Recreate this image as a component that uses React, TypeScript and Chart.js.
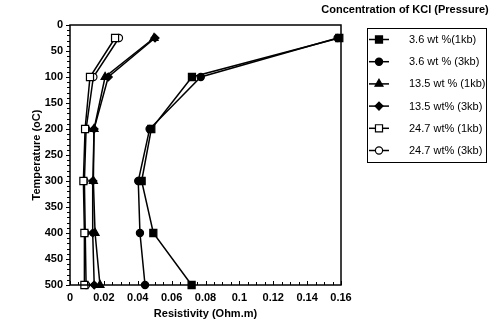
import React, { useEffect, useRef } from 'react';
import { Chart, registerables } from 'chart.js';
import { drawPoint } from 'chart.js/helpers';

Chart.register(...registerables);

const temperatures = [25, 100, 200, 300, 400, 500];
const kcl36_1kb = [0.159, 0.072, 0.048, 0.0423, 0.0492, 0.0718];
const kcl36_3kb = [0.158, 0.0772, 0.047, 0.0403, 0.0413, 0.0443];
const kcl135_1kb = [0.0496, 0.0207, 0.0142, 0.0138, 0.0148, 0.0177];
const kcl135_3kb = [0.0502, 0.0226, 0.0142, 0.0135, 0.0134, 0.0143];
const kcl247_1kb = [0.0266, 0.0118, 0.0089, 0.0079, 0.0085, 0.0085];
const kcl247_3kb = [0.0289, 0.0138, 0.0095, 0.0085, 0.009, 0.0095];

const seriesLabels = [
  '3.6 wt %(1kb)',
  '3.6 wt % (3kb)',
  '13.5 wt % (1kb)',
  '13.5 wt% (3kb)',
  '24.7 wt% (1kb)',
  '24.7 wt% (3kb)',
];
const seriesValues = [kcl36_1kb, kcl36_3kb, kcl135_1kb, kcl135_3kb, kcl247_1kb, kcl247_3kb];
const seriesStyles = ['rect', 'circle', 'triangle', 'rectRot', 'rect', 'circle'];
const seriesRadius = [5, 3.6, 4.6, 4, 5, 3.6];
const seriesFilled = [true, true, true, true, false, false];

const legendTitle = 'Concentration of KCl (Pressure)';
const xTitle = 'Resistivity (Ohm.m)';
const yTitle = 'Temperature (oC)';

const FONT = "'Liberation Sans', Arial, sans-serif";

const framePlugin = {
  id: 'frameAndLegend',
  afterDatasetsDraw(chart: any) {
    const { ctx, chartArea: a, scales } = chart;
    const xs = scales.x;
    const ys = scales.y;
    ctx.save();
    ctx.strokeStyle = '#000';
    ctx.lineWidth = 1.5;
    ctx.strokeRect(a.left, a.top, a.right - a.left, a.bottom - a.top);
    ctx.lineWidth = 1;
    ctx.beginPath();
    for (let t = 0; t <= 500; t += 10) {
      const py = Math.round(ys.getPixelForValue(t)) + 0.5;
      const len = t % 50 === 0 ? 4 : 3;
      ctx.moveTo(a.left - len, py);
      ctx.lineTo(a.left, py);
    }
    for (let i = 0; i <= 32; i++) {
      const v = i * 0.005;
      const px = Math.round(xs.getPixelForValue(v)) + 0.5;
      const len = i % 4 === 0 ? 4 : 3;
      ctx.moveTo(px, a.bottom);
      ctx.lineTo(px, a.bottom - len);
    }
    ctx.stroke();

    // legend
    ctx.fillStyle = '#000';
    ctx.font = `bold 11px ${FONT}`;
    ctx.textAlign = 'center';
    ctx.textBaseline = 'middle';
    ctx.fillText(legendTitle, 405, 10);

    ctx.lineWidth = 1;
    ctx.strokeRect(367.5, 28.5, 119, 134);
    ctx.textAlign = 'left';
    ctx.font = `11px ${FONT}`;
    chart.data.datasets.forEach((ds: any, i: number) => {
      const y = 39.5 + i * 22.2;
      ctx.strokeStyle = '#000';
      ctx.lineWidth = 1.5;
      ctx.beginPath();
      ctx.moveTo(369, y);
      ctx.lineTo(389, y);
      ctx.stroke();
      ctx.fillStyle = ds.pointBackgroundColor;
      ctx.strokeStyle = '#000';
      ctx.lineWidth = 1.2;
      drawPoint(ctx, { pointStyle: ds.pointStyle, radius: ds.pointRadius, rotation: 0, borderWidth: 1.2 }, 379, y);
      ctx.fillStyle = '#000';
      ctx.fillText(ds.label, 409, y + 0.5);
    });
    ctx.restore();
  },
};

export default function App() {
  const ref = useRef<HTMLCanvasElement | null>(null);
  useEffect(() => {
    if (!ref.current) return;
    const datasets = seriesLabels.map((label, i) => ({
      label,
      data: temperatures.map((t, j) => ({ x: seriesValues[i][j], y: t })),
      showLine: true,
      borderColor: '#000',
      borderWidth: 1.5,
      pointStyle: seriesStyles[i],
      pointRadius: seriesRadius[i],
      pointBorderWidth: 1.2,
      pointBorderColor: '#000',
      pointBackgroundColor: seriesFilled[i] ? '#000' : '#fff',
      backgroundColor: seriesFilled[i] ? '#000' : '#fff',
      clip: false as any,
    }));
    const chart = new Chart(ref.current, {
      type: 'scatter',
      data: { datasets },
      options: {
        responsive: false,
        animation: false,
        layout: { padding: { top: 25, right: 159, left: 0, bottom: 0 } },
        plugins: { legend: { display: false }, tooltip: { enabled: false } },
        scales: {
          x: {
            type: 'linear',
            min: 0,
            max: 0.16,
            grid: { display: false, drawTicks: false },
            border: { display: false },
            ticks: {
              stepSize: 0.02,
              autoSkip: false,
              maxRotation: 0,
              padding: 6,
              color: '#000',
              font: { family: FONT, size: 11, weight: 'bold' },
              callback: (v: any) => String(+Number(v).toFixed(3)),
            },
            title: {
              display: true,
              text: xTitle,
              color: '#000',
              font: { family: FONT, size: 11, weight: 'bold' },
              padding: { top: 0, bottom: 3.5 },
            },
            afterFit: (s: any) => {
              s.height = 39;
            },
          },
          y: {
            type: 'linear',
            reverse: true,
            min: 0,
            max: 500,
            grid: { display: false, drawTicks: false },
            border: { display: false },
            ticks: {
              stepSize: 50,
              autoSkip: false,
              padding: 7,
              color: '#000',
              font: { family: FONT, size: 11, weight: 'bold' },
            },
            title: {
              display: true,
              text: yTitle,
              color: '#000',
              font: { family: FONT, size: 11, weight: 'bold' },
              padding: { top: 30, bottom: 0 },
            },
            afterFit: (s: any) => {
              s.width = 70;
            },
          },
        },
      },
      plugins: [framePlugin],
    });
    return () => chart.destroy();
  }, []);
  return (
    <div style={{ position: 'absolute', left: 0, top: 0, width: 500, height: 324, background: '#fff' }}>
      <canvas ref={ref} width={500} height={324} style={{ display: 'block' }} />
    </div>
  );
}
